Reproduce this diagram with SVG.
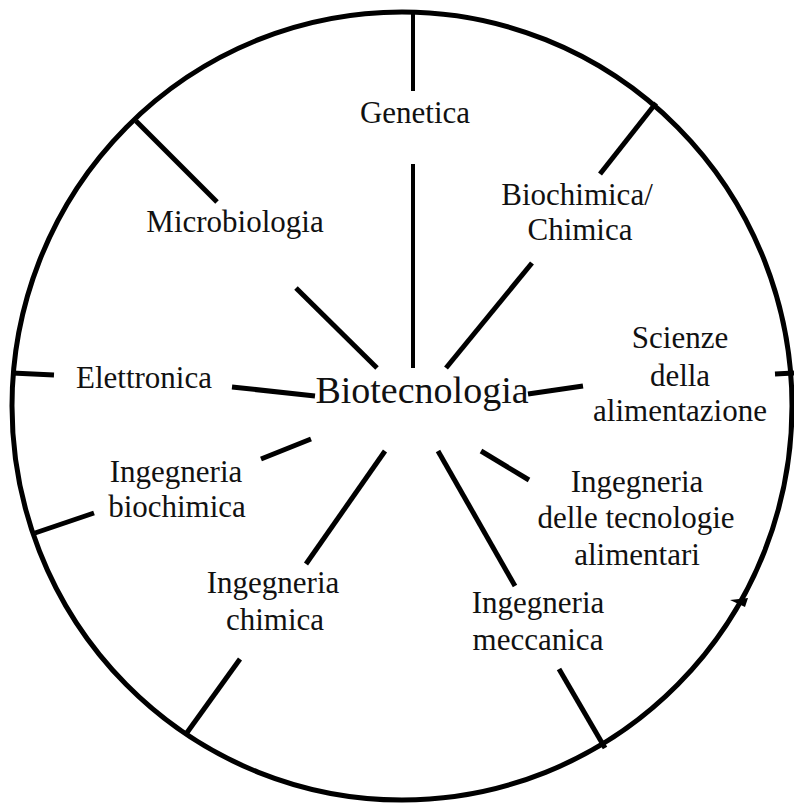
<svg xmlns="http://www.w3.org/2000/svg" width="794" height="803" viewBox="0 0 794 803">
<style>
text{font-family:"Liberation Serif","Times New Roman",serif}
.lbl{font-size:31px;fill:#111;text-anchor:middle}
.ctr{font-size:38px;fill:#111;text-anchor:middle}
.sp{stroke:#000;stroke-width:5;fill:none;stroke-linecap:butt}
</style>
<rect width="794" height="803" fill="#fff"/>
<ellipse cx="402" cy="406" rx="390" ry="394" fill="none" stroke="#000" stroke-width="5"/>
<g id="connectors">
<line class="sp" x1="413" y1="12" x2="413" y2="91" style="stroke-width:4"/>
<line class="sp" x1="413" y1="164" x2="413" y2="368" style="stroke-width:4"/>
<line class="sp" x1="136" y1="121" x2="217" y2="202"/>
<line class="sp" x1="296" y1="288" x2="377" y2="368"/>
<line class="sp" x1="656" y1="103" x2="600" y2="174"/>
<line class="sp" x1="532" y1="263" x2="446" y2="368"/>
<line class="sp" x1="12" y1="373" x2="54" y2="375"/>
<line class="sp" x1="232" y1="387" x2="315" y2="396"/>
<line class="sp" x1="528" y1="394" x2="583" y2="386"/>
<line class="sp" x1="775" y1="374" x2="794" y2="373"/>
<line class="sp" x1="311" y1="439" x2="261" y2="459"/>
<line class="sp" x1="94" y1="513" x2="35" y2="533"/>
<line class="sp" x1="385" y1="451" x2="306" y2="564"/>
<line class="sp" x1="240" y1="659" x2="186" y2="734"/>
<line class="sp" x1="438" y1="451" x2="515" y2="586"/>
<line class="sp" x1="559" y1="669" x2="605" y2="748"/>
<line class="sp" x1="481" y1="451" x2="529" y2="480"/>
<polygon points="730,600 748,598 745,607" fill="#000"/>
</g>
<g id="biotecnologia"><text class="ctr" x="422" y="403" font-family="Liberation Serif, serif">Biotecnologia</text></g>
<g id="genetica"><text class="lbl" x="415" y="123" font-family="Liberation Serif, serif">Genetica</text></g>
<g id="microbiologia"><text class="lbl" x="235" y="232" font-family="Liberation Serif, serif">Microbiologia</text></g>
<g id="biochimica"><text class="lbl" x="577" y="205" font-family="Liberation Serif, serif">Biochimica/</text><text class="lbl" x="580" y="240" font-family="Liberation Serif, serif">Chimica</text></g>
<g id="scienze"><text class="lbl" x="680" y="348" font-family="Liberation Serif, serif">Scienze</text><text class="lbl" x="680" y="386" font-family="Liberation Serif, serif">della</text><text class="lbl" x="680" y="421" font-family="Liberation Serif, serif">alimentazione</text></g>
<g id="elettronica"><text class="lbl" x="144" y="388" font-family="Liberation Serif, serif">Elettronica</text></g>
<g id="ing-biochimica"><text class="lbl" x="176" y="482" font-family="Liberation Serif, serif">Ingegneria</text><text class="lbl" x="177" y="517" font-family="Liberation Serif, serif">biochimica</text></g>
<g id="ing-chimica"><text class="lbl" x="273" y="593" font-family="Liberation Serif, serif">Ingegneria</text><text class="lbl" x="275" y="630" font-family="Liberation Serif, serif">chimica</text></g>
<g id="ing-meccanica"><text class="lbl" x="538" y="613" font-family="Liberation Serif, serif">Ingegneria</text><text class="lbl" x="538" y="650" font-family="Liberation Serif, serif">meccanica</text></g>
<g id="ing-tecnologie"><text class="lbl" x="637" y="492" font-family="Liberation Serif, serif">Ingegneria</text><text class="lbl" x="636" y="528" font-family="Liberation Serif, serif">delle tecnologie</text><text class="lbl" x="637" y="565" font-family="Liberation Serif, serif">alimentari</text></g>
</svg>
